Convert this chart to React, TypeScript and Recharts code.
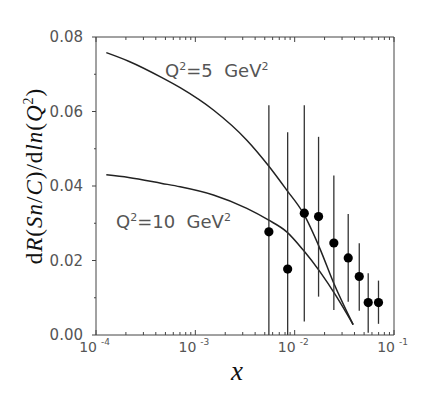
import React from 'react';
import {
  ComposedChart,
  Line,
  Scatter,
  ErrorBar,
  XAxis,
  YAxis,
} from 'recharts';

// measured points: x, value, upper and lower end of the error bar
const POINT_X = [0.0055, 0.0085, 0.0125, 0.0174, 0.0248, 0.0346, 0.0447, 0.055, 0.0698];
const POINT_Y = [0.0277, 0.0177, 0.0327, 0.0318, 0.0247, 0.0207, 0.0157, 0.0087, 0.0087];
const POINT_HI = [0.0617, 0.0544, 0.0617, 0.0532, 0.0428, 0.0325, 0.0246, 0.0166, 0.0146];
const POINT_LO = [0, 0, 0.0036, 0.0103, 0.0067, 0.0089, 0.0065, 0.0006, 0.003];

// theory curves
const Q5_X = [1.27e-4, 2.13e-4, 4.61e-4, 7.03e-4, 1.52e-3, 3.3e-3, 5.43e-3, 8.32e-3, 0.0122, 0.01795, 0.0244, 0.0388];
const Q5_Y = [0.0758, 0.0735, 0.0691, 0.0664, 0.0604, 0.0523, 0.0455, 0.0389, 0.0327, 0.0232, 0.0143, 0.0028];
const Q10_X = [1.27e-4, 2.13e-4, 4.61e-4, 7.03e-4, 1.52e-3, 3.3e-3, 5.43e-3, 8.32e-3, 0.0122, 0.01795, 0.0264, 0.0388];
const Q10_Y = [0.043, 0.0423, 0.0407, 0.0398, 0.0376, 0.034, 0.0309, 0.0277, 0.0228, 0.017, 0.0103, 0.0028];

// axes
const X_MAJOR = [1e-4, 1e-3, 1e-2, 1e-1];
const X_EXP = ['-4', '-3', '-2', '-1'];
const X_MINOR_MULT = [2, 3, 4, 5, 6, 7, 8, 9];
const Y_TICKS = [0, 0.01, 0.02, 0.03, 0.04, 0.05, 0.06, 0.07, 0.08];

const X_TICKS = X_MAJOR.flatMap((m, i) =>
  i < X_MAJOR.length - 1 ? [m, ...X_MINOR_MULT.map(k => k * m)] : [m]
);

const points = POINT_X.map((x, i) => ({
  x,
  y: POINT_Y[i],
  err: [POINT_Y[i] - POINT_LO[i], POINT_HI[i] - POINT_Y[i]],
}));
const q5 = Q5_X.map((x, i) => ({ x, y: Q5_Y[i] }));
const q10 = Q10_X.map((x, i) => ({ x, y: Q10_Y[i] }));

const AXIS = '#444';
const LABEL = '#555';
const SANS = '"DejaVu Sans", sans-serif';
const SERIF = '"Liberation Serif", "DejaVu Serif", serif';

const majorIndex = (v: number) => X_MAJOR.findIndex(m => Math.abs(m - v) / m < 1e-6);

const BottomTick = (props: any) => {
  const { x, y, payload } = props;
  const idx = majorIndex(payload.value);
  const major = idx >= 0;
  return (
    <g>
      <line x1={x} y1={y} x2={x} y2={y - (major ? 5 : 3)} stroke={AXIS} />
      {major && (
        <g fontFamily={SANS} fill={LABEL}>
          <text x={x + 1} y={y + 17} fontSize={14} textAnchor='end'>
            10
          </text>
          <text x={x + 5} y={y + 10} fontSize={9}>
            {X_EXP[idx]}
          </text>
        </g>
      )}
    </g>
  );
};

const TopTick = (props: any) => {
  const { x, y, payload } = props;
  const major = majorIndex(payload.value) >= 0;
  return <line x1={x} y1={y} x2={x} y2={y + (major ? 5 : 3)} stroke={AXIS} />;
};

const LeftTick = (props: any) => {
  const { x, y, payload, index } = props;
  const major = index % 2 === 0;
  return (
    <g>
      <line x1={x - (major ? 4 : 2)} y1={y} x2={x} y2={y} stroke={AXIS} />
      {major && (
        <text
          x={x - 13}
          y={y + 5}
          fontSize={15}
          fontFamily={SANS}
          fill={LABEL}
          textAnchor='end'
        >
          {payload.value.toFixed(2)}
        </text>
      )}
    </g>
  );
};

const RightTick = (props: any) => {
  const { x, y } = props;
  return <line x1={x - 3} y1={y} x2={x} y2={y} stroke={AXIS} />;
};

const Dot = (props: any) => <circle cx={props.cx} cy={props.cy} r={4.6} fill='#000' />;

export default function App() {
  return (
    <div style={{ position: 'absolute', left: 0, top: 0, background: '#fff' }}>
      <ComposedChart
        width={436}
        height={393}
        margin={{ top: 36, right: 41, bottom: 57, left: 95 }}
      >
        <XAxis
          dataKey='x'
          type='number'
          scale='log'
          domain={[1e-4, 1e-1]}
          allowDataOverflow
          ticks={X_TICKS}
          interval={0}
          height={1}
          tickSize={0}
          tickMargin={0}
          tickLine={false}
          stroke={AXIS}
          tick={<BottomTick />}
        />
        <XAxis
          xAxisId='top'
          orientation='top'
          dataKey='x'
          type='number'
          scale='log'
          domain={[1e-4, 1e-1]}
          allowDataOverflow
          ticks={X_TICKS}
          interval={0}
          height={1}
          tickSize={0}
          tickMargin={0}
          tickLine={false}
          stroke={AXIS}
          tick={<TopTick />}
        />
        <YAxis
          type='number'
          domain={[0, 0.08]}
          ticks={Y_TICKS}
          interval={0}
          width={1}
          tickSize={0}
          tickMargin={0}
          tickLine={false}
          stroke={AXIS}
          tick={<LeftTick />}
        />
        <YAxis
          yAxisId='right'
          orientation='right'
          type='number'
          domain={[0, 0.08]}
          ticks={Y_TICKS}
          interval={0}
          width={1}
          tickSize={0}
          tickMargin={0}
          tickLine={false}
          stroke={AXIS}
          tick={<RightTick />}
        />
        <Line
          data={q5}
          dataKey='y'
          type='monotone'
          stroke='#222'
          strokeWidth={1.5}
          dot={false}
          isAnimationActive={false}
        />
        <Line
          data={q10}
          dataKey='y'
          type='monotone'
          stroke='#222'
          strokeWidth={1.5}
          dot={false}
          isAnimationActive={false}
        />
        <Scatter data={points} dataKey='y' shape={<Dot />} isAnimationActive={false}>
          <ErrorBar
            dataKey='err'
            direction='y'
            width={0}
            stroke='#333'
            strokeWidth={1.3}
            isAnimationActive={false}
          />
        </Scatter>

        <text
          x={165}
          y={77}
          fontSize={18}
          fontFamily={SANS}
          fill={LABEL}
          style={{ whiteSpace: 'pre' }}
        >
          Q<tspan dy={-7} fontSize={11}>2</tspan>
          <tspan dy={7}>{'=5  GeV'}</tspan>
          <tspan dy={-7} fontSize={11}>2</tspan>
        </text>
        <text
          x={116}
          y={228}
          fontSize={18}
          fontFamily={SANS}
          fill={LABEL}
          style={{ whiteSpace: 'pre' }}
        >
          Q<tspan dy={-7} fontSize={11}>2</tspan>
          <tspan dy={7}>{'=10  GeV'}</tspan>
          <tspan dy={-7} fontSize={11}>2</tspan>
        </text>

        <text
          x={237}
          y={380}
          fontSize={27}
          fontFamily={SERIF}
          fontStyle='italic'
          textAnchor='middle'
          fill='#111'
        >
          x
        </text>
        <text
          transform='translate(42,176) rotate(-90)'
          fontSize={23}
          fontFamily={SERIF}
          textAnchor='middle'
          fill='#111'
          letterSpacing={1}
        >
          d<tspan fontStyle='italic'>R</tspan>(<tspan fontStyle='italic'>Sn</tspan>/<tspan fontStyle='italic'>C</tspan>)/d<tspan fontStyle='italic'>ln</tspan>(<tspan fontStyle='italic'>Q</tspan>
          <tspan dy={-9} fontSize={14}>2</tspan>
          <tspan dy={9}>)</tspan>
        </text>
      </ComposedChart>
    </div>
  );
}
